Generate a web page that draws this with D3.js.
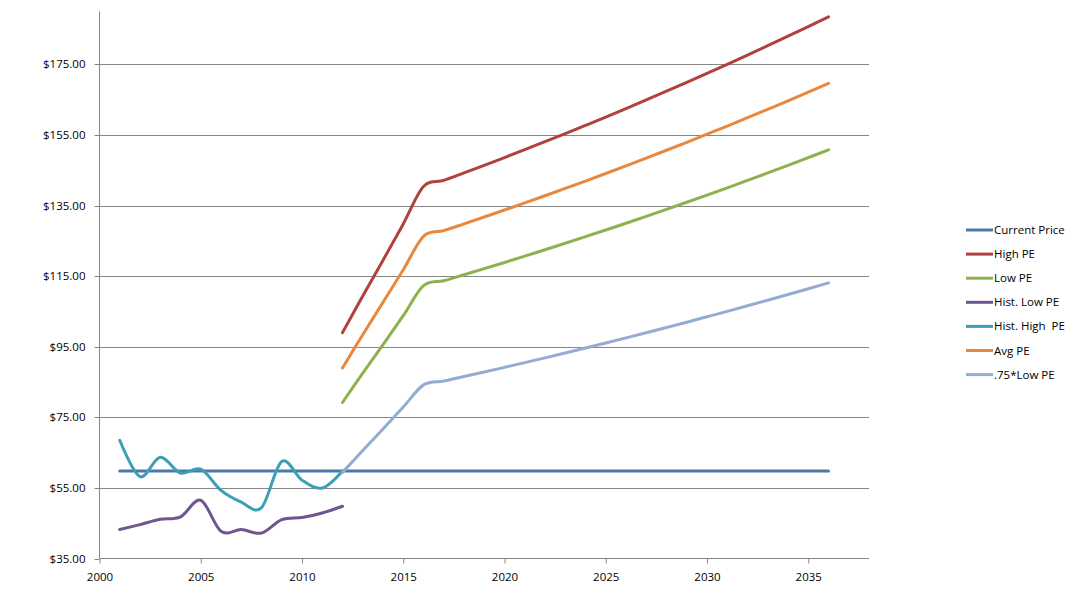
<!DOCTYPE html>
<html>
<head>
<meta charset="utf-8">
<script src="https://cdn.jsdelivr.net/npm/d3@7"></script>
<style>
  html, body { margin: 0; padding: 0; background: #fff; }
  svg { display: block; }
  text { font-family: "Open Sans", "Liberation Sans", Arial, sans-serif; fill: #000; }
</style>
</head>
<body>
<svg id="chart" width="1073" height="598"></svg>
<script>
// ---- data ----
const seriesNames = ["Current Price", "High PE", "Low PE", "Hist. Low PE", "Hist. High  PE", "Avg PE", ".75*Low PE"];
const seriesColors = ["#4A78A8", "#B0413E", "#8FB04F", "#6F5592", "#3D9FB5", "#E8883F", "#93ACD2"];

const histYears = [2001, 2002, 2003, 2004, 2005, 2006, 2007, 2008, 2009, 2010, 2011, 2012];
const projYears = [2012, 2013, 2014, 2015, 2016, 2017, 2018, 2019, 2020, 2021, 2022, 2023, 2024,
                   2025, 2026, 2027, 2028, 2029, 2030, 2031, 2032, 2033, 2034, 2035, 2036];
const currentYears = [2001, 2036];

const currentPrice = [59.8, 59.8];
const highPE = [99.0, 109.4, 119.5, 129.8, 140.4, 142.13, 144.25, 146.41, 148.61, 150.84, 153.10, 155.40, 157.74,
                160.10, 162.51, 164.95, 167.43, 169.94, 172.48, 175.05, 177.66, 180.31, 183.00, 185.73, 188.48];
const lowPE = [79.2, 87.5, 95.6, 103.8, 112.3, 113.70, 115.40, 117.13, 118.89, 120.67, 122.48, 124.32, 126.19,
               128.08, 130.01, 131.96, 133.94, 135.95, 137.98, 140.04, 142.13, 144.25, 146.40, 148.58, 150.78];
const histLowPE = [43.2, 44.6, 46.1, 46.8, 51.5, 42.7, 43.2, 42.2, 46.0, 46.6, 47.9, 49.8];
const histHighPE = [68.5, 58.2, 63.7, 59.2, 60.3, 54.3, 51.0, 49.4, 62.5, 57.2, 55.0, 59.8];
const avgPE = [89.0, 98.4, 107.6, 116.8, 126.3, 127.91, 129.83, 131.77, 133.75, 135.75, 137.79, 139.86, 141.96,
               144.09, 146.26, 148.46, 150.68, 152.94, 155.23, 157.55, 159.90, 162.28, 164.70, 167.15, 169.63];
const lowPE75 = [59.4, 65.6, 71.7, 77.9, 84.2, 85.28, 86.55, 87.85, 89.17, 90.50, 91.86, 93.24, 94.64,
                 96.06, 97.51, 98.97, 100.46, 101.96, 103.49, 105.03, 106.60, 108.19, 109.80, 111.44, 113.09];

const yTicks = [35, 55, 75, 95, 115, 135, 155, 175];
const xTicks = [2000, 2005, 2010, 2015, 2020, 2025, 2030, 2035];

// ---- layout ----
const svg = d3.select("#chart");
const plot = { left: 99.5, right: 869, top: 11.5, bottom: 558.5 };

const x = d3.scaleLinear().domain([2000, 2038]).range([plot.left, plot.right]);
const y = d3.scaleLinear().domain([35, 190]).range([plot.bottom, plot.top]);

const gridColor = "#868686";

// gridlines
svg.append("g")
  .selectAll("line")
  .data(yTicks.filter(d => d !== 35))
  .join("line")
  .attr("x1", plot.left).attr("x2", plot.right)
  .attr("y1", d => Math.round(y(d)) + 0.5).attr("y2", d => Math.round(y(d)) + 0.5)
  .attr("stroke", gridColor).attr("stroke-width", 1);

// y axis
const yAxis = d3.axisLeft(y).tickValues(yTicks).tickSize(5).tickPadding(9)
  .tickFormat(d => "$" + d3.format(".2f")(d));
const gy = svg.append("g").attr("transform", `translate(${plot.left},0)`).call(yAxis);
gy.select(".domain").attr("stroke", gridColor).attr("d", `M-0,${plot.top}V${plot.bottom}`);
gy.selectAll(".tick line").attr("stroke", gridColor);
gy.selectAll(".tick").attr("transform", d => `translate(0,${Math.round(y(d)) + 0.5})`);
gy.selectAll("text").style("font-size", "11.5px").attr("fill", "#000");

// x axis
const xAxis = d3.axisBottom(x).tickValues(xTicks).tickSize(5).tickPadding(9).tickFormat(d3.format("d"));
const gx = svg.append("g").attr("transform", `translate(0,${plot.bottom})`).call(xAxis);
gx.select(".domain").attr("stroke", gridColor).attr("d", `M${plot.left},0H${plot.right}`);
gx.selectAll(".tick line").attr("stroke", gridColor);
gx.selectAll("text").style("font-size", "11.5px").attr("fill", "#000");

// ---- series ----
const series = [
  { years: currentYears, values: currentPrice },
  { years: projYears, values: highPE },
  { years: projYears, values: lowPE },
  { years: histYears, values: histLowPE },
  { years: histYears, values: histHighPE },
  { years: projYears, values: avgPE },
  { years: projYears, values: lowPE75 }
];

const line = d3.line()
  .x(d => x(d[0]))
  .y(d => y(d[1]))
  .curve(d3.curveCardinal.tension(0));

svg.append("g")
  .selectAll("path")
  .data(series)
  .join("path")
  .attr("d", s => line(s.years.map((yr, i) => [yr, s.values[i]])))
  .attr("fill", "none")
  .attr("stroke", (s, i) => seriesColors[i])
  .attr("stroke-width", 3)
  .attr("stroke-linejoin", "round")
  .attr("stroke-linecap", "round");

// ---- legend ----
const legend = svg.append("g").attr("transform", "translate(966,230)");
const rows = legend.selectAll("g")
  .data(seriesNames)
  .join("g")
  .attr("transform", (d, i) => `translate(0,${i * 24.1})`);
rows.append("line")
  .attr("x1", 0).attr("x2", 27).attr("y1", 0).attr("y2", 0)
  .attr("stroke", (d, i) => seriesColors[i]).attr("stroke-width", 3);
rows.append("text")
  .attr("x", 28).attr("y", 0).attr("dy", "0.35em")
  .style("font-size", "11.5px")
  .style("white-space", "pre")
  .text(d => d);
</script>
</body>
</html>
